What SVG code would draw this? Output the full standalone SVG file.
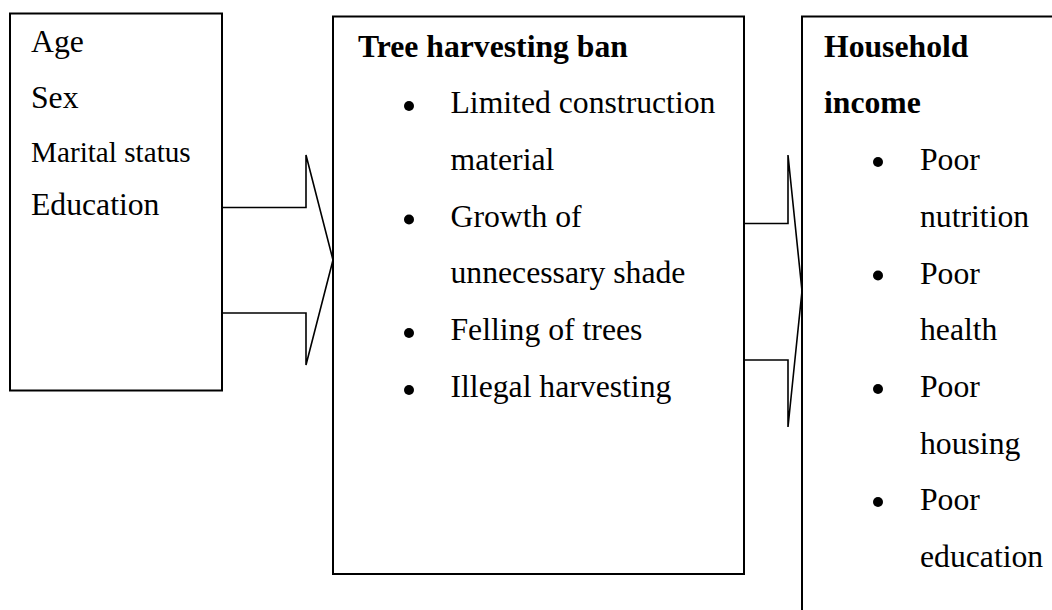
<svg xmlns="http://www.w3.org/2000/svg" width="1052" height="610" viewBox="0 0 1052 610">
<style>
.box{fill:#fff;stroke:#000;stroke-width:2}
.arr{fill:#fff;stroke:#000;stroke-width:1.6;stroke-linejoin:miter}
text{font-family:"Liberation Serif","Times New Roman",serif;font-size:31.7px;fill:#000}
.b{font-weight:bold}
.sm{font-size:29.2px}
.dot{fill:#000}
</style>
<rect width="1052" height="610" fill="#fff"/>
<g id="connectors">
<polyline class="arr" points="222,207.5 306,207.5 306,155 333,260 306,365 306,313 222,313"/>
<polyline class="arr" points="744,223.5 788,223.5 788,155 802,291 788,427 788,360 744,360"/>
</g>
<g id="demographics">
<rect class="box" x="10" y="13.5" width="212" height="377"/>
<text x="31" y="52">Age</text>
<text x="31" y="108">Sex</text>
<text class="sm" x="31" y="162">Marital status</text>
<text x="31" y="215">Education</text>
</g>
<g id="ban">
<rect class="box" x="333" y="16.5" width="411" height="557.5"/>
<text class="b" x="358" y="56.5">Tree harvesting ban</text>
<circle class="dot" cx="409" cy="106" r="5"/>
<text x="450.5" y="113">Limited construction</text>
<text x="450.5" y="169.5">material</text>
<circle class="dot" cx="409" cy="219.5" r="5"/>
<text x="450.5" y="226.5">Growth of</text>
<text x="450.5" y="283">unnecessary shade</text>
<circle class="dot" cx="409" cy="333" r="5"/>
<text x="450.5" y="340">Felling of trees</text>
<circle class="dot" cx="409" cy="390" r="5"/>
<text x="450.5" y="397">Illegal harvesting</text>
</g>
<g id="income">
<rect class="box" x="802" y="16.5" width="300" height="640"/>
<text class="b" x="824" y="56.5">Household</text>
<text class="b" x="824" y="113">income</text>
<circle class="dot" cx="878" cy="162" r="5"/>
<text x="920" y="170">Poor</text>
<text x="920" y="226.5">nutrition</text>
<circle class="dot" cx="878" cy="275.5" r="5"/>
<text x="920" y="283.5">Poor</text>
<text x="920" y="340">health</text>
<circle class="dot" cx="878" cy="389" r="5"/>
<text x="920" y="397">Poor</text>
<text x="920" y="453.5">housing</text>
<circle class="dot" cx="878" cy="502" r="5"/>
<text x="920" y="510">Poor</text>
<text x="920" y="566.5">education</text>
</g>
</svg>
